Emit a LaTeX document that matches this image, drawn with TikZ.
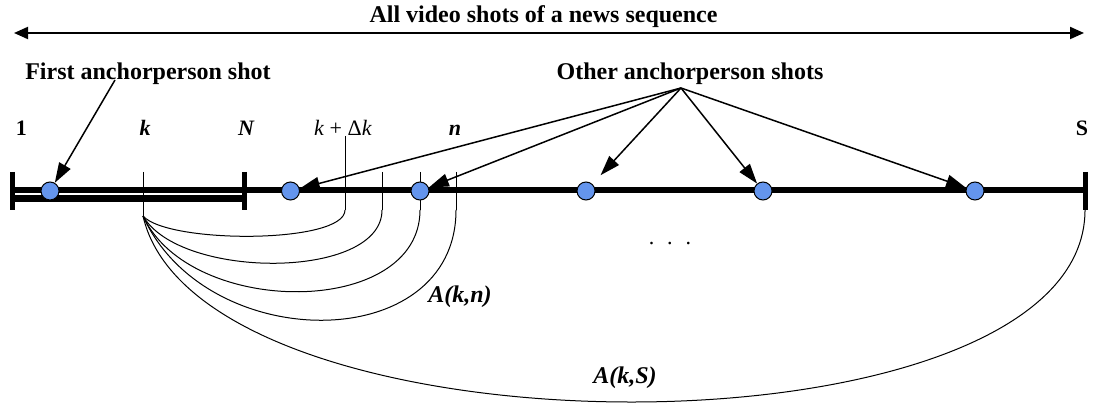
\documentclass[tikz,border=0pt]{standalone}
\usepackage{fontspec}
\setmainfont{Liberation Serif}
\usetikzlibrary{arrows.meta}
\definecolor{shotblue}{RGB}{100,149,237}

\begin{document}
\begin{tikzpicture}[
    x=0.5pt, y=-0.5pt,
    lbl/.style={inner sep=0pt, anchor=base, font=\fontsize{12}{14}\selectfont\bfseries},
    idx/.style={inner sep=0pt, anchor=base, font=\fontsize{11}{13}\selectfont},
    shot/.style={circle, draw=black, line width=0.5pt, fill=shotblue,
                 minimum size=9pt, inner sep=0pt},
    arr/.style={-{Triangle[length=10pt, width=6.5pt]}, line width=0.75pt},
    endbar/.style={line width=2.5pt},
    fine/.style={line width=0.5pt}
]
    \useasboundingbox (0,0) rectangle (1095,405);

    \node[lbl] (title) at (543.5,22.7) {All video shots of a news sequence};
    \coordinate (allL) at (14,33);
    \coordinate (allR) at (1084,33);
    \draw[{Triangle[length=7pt, width=6pt]}-{Triangle[length=7pt, width=6pt]},
          line width=1pt] (allL) -- (allR);

    \node[lbl] (first) at (148,80) {First anchorperson shot};
    \node[lbl] (other) at (690,80) {Other anchorperson shots};

    \node[idx, font=\fontsize{11}{13}\selectfont\bfseries] (one) at (21.5,136) {1};
    \node[idx, font=\fontsize{11}{13}\selectfont\bfseries\itshape] (lk) at (145,136) {k};
    \node[idx, font=\fontsize{11}{13}\selectfont\bfseries\itshape] (lN) at (246,136) {N};
    \node[idx] (lkdk) at (343,136) {\textit{k} + Δ\textit{k}};
    \node[idx, font=\fontsize{11}{13}\selectfont\bfseries\itshape] (ln) at (455,136) {n};
    \node[idx, font=\fontsize{11}{13}\selectfont\bfseries] (lS) at (1082,136) {S};

    \coordinate (lineL) at (12.5,190.5);
    \coordinate (lineR) at (1085,190.5);
    \coordinate (barL) at (12.5,198.8);
    \coordinate (barR) at (244,198.8);
    \draw[line width=3pt] (lineL) -- (lineR);
    \draw[line width=3.6pt] (barL) -- (barR);
    \foreach \x in {12.5, 244, 1085}
        \draw[endbar] (\x,172) -- (\x,210);

    \coordinate (ktop) at (143,172);
    \coordinate (kbot) at (143,216);
    \draw[fine] (ktop) -- (kbot);
    \draw[fine] (lkdk.base -| 345,0) -- (345,210);
    \foreach \x in {382, 420, 456}
        \draw[fine] (\x,172) -- (\x,210);

    \foreach \xr/\c/\xa in {345/244/168, 382/280/180, 420/318/190, 456/356/206, 1085/465/200}
        \draw[fine] (kbot) .. controls (\xa,\c) and (\xr,\c) .. (\xr,210);

    \node[shot] (shot1) at (50,191) {};
    \node[shot] (shot2) at (290.5,191) {};
    \node[shot] (shot3) at (420,191) {};
    \node[shot] (shot4) at (586,191) {};
    \node[shot] (shot5) at (763,191) {};
    \node[shot] (shot6) at (975,191) {};

    \coordinate (firstpt) at (115,80);
    \coordinate (apex) at (681,88);
    \draw[arr] (firstpt) -- (shot1);
    \foreach \s in {shot2, shot3, shot5, shot6}
        \draw[arr] (apex) -- (\s);
    \draw[arr, shorten >=6pt] (apex) -- (shot4);

    \node[idx] (dots) at (670,245) {.\hspace{6.5pt}.\hspace{6.5pt}.};

    \node[lbl, font=\fontsize{12}{14}\selectfont\bfseries\itshape] (Akn) at (460,302) {A(k,n)};
    \node[lbl, font=\fontsize{12}{14}\selectfont\bfseries\itshape] (AkS) at (625,383) {A(k,S)};
\end{tikzpicture}
\end{document}
